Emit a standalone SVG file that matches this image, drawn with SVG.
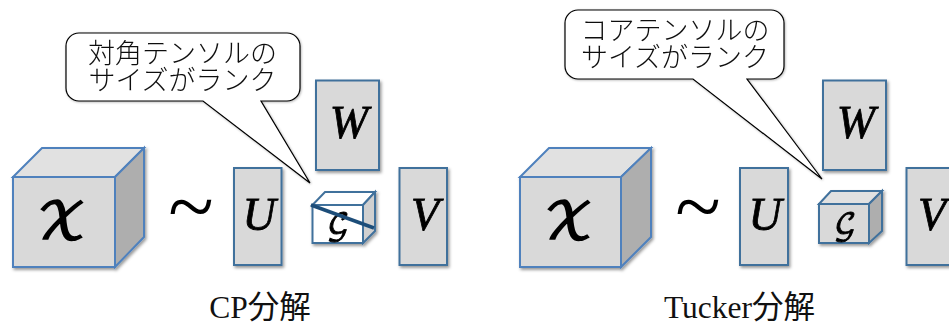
<svg xmlns="http://www.w3.org/2000/svg" width="949" height="323" viewBox="0 0 949 323">
<style>
.shape{stroke:#4f81bd;stroke-width:2;stroke-linejoin:miter}
.box{fill:#d9d9d9;stroke:#41719c;stroke-width:2}
.front{fill:#d9d9d9}.top{fill:#e1e1e1}.side{fill:#aeaeae}
.math{font-family:"DejaVu Math TeX Gyre","Liberation Serif",serif;fill:#000;stroke:#000;text-anchor:middle}
.ital{font-family:"Liberation Serif",serif;font-style:italic;fill:#000;stroke:#000;stroke-width:.8;text-anchor:middle;font-size:46px}
.call{fill:#fff;stroke:#000;stroke-width:1.2;stroke-linejoin:miter}
.ctext{font-family:"Noto Sans CJK JP","Noto Sans",sans-serif;font-size:27px;font-weight:300;fill:#111;text-anchor:middle}
.cap{font-family:"Liberation Serif","Noto Sans CJK JP",serif;font-size:31.5px;fill:#111;text-anchor:middle}
.tilde{font-family:"Liberation Serif",serif;font-size:84px;fill:#000;text-anchor:middle}
</style>
<defs>
<filter id="sh" x="-15%" y="-15%" width="130%" height="130%"><feDropShadow dx="1.5" dy="2" stdDeviation="1.8" flood-color="#000" flood-opacity="0.4"/></filter>
<filter id="ls" x="-10%" y="-10%" width="120%" height="120%"><feDropShadow dx="0.8" dy="0.8" stdDeviation="0.8" flood-color="#000" flood-opacity="0.3"/></filter>
</defs>
<g id="connectors"></g>
<g id="cp-x" filter="url(#sh)">
<path class="shape top" d="M13 177L42 148H144L115 177Z"/><path class="shape side" d="M115 177L144 148V237L115 267Z"/><rect class="shape front" x="13" y="177" width="102" height="90"/>
<text class="math" x="62" y="239" font-size="51" stroke-width="1.7">𝒳</text></g>
<g id="cp-tilde"><text class="tilde" x="191" y="235">~</text></g>
<g id="cp-u" filter="url(#sh)"><rect class="box" x="234" y="168" width="47.5" height="97"/><text class="ital" x="259" y="230">U</text></g>
<g id="cp-w" filter="url(#sh)"><rect class="box" x="316" y="80.5" width="63" height="89.5"/><text class="ital" x="349" y="138">W</text></g>
<g id="cp-v" filter="url(#sh)"><rect class="box" x="399.5" y="168" width="47.5" height="97"/><text class="ital" x="425" y="230">V</text></g>
<g id="cp-g" filter="url(#sh)">
<path d="M312.5 205L325 192H375L363 205Z" fill="#fff" stroke="#41719c" stroke-width="2"/><path d="M363 205L375 192V231L363 243Z" fill="#d0d0d0" stroke="#41719c" stroke-width="2"/><rect x="312.5" y="205" width="50.5" height="38" fill="#fff" stroke="#41719c" stroke-width="2"/>
<text class="math" x="338" y="234" font-size="30" stroke-width=".9">𝒢</text>
<line x1="311" y1="205" x2="374" y2="228" stroke="#1f4e79" stroke-width="3.5"/></g>
<g id="cp-callout" filter="url(#ls)"><path class="call" d="M79 33H287A13 13 0 0 1 300 46V88A13 13 0 0 1 287 101H261L310 183L203 101H79A13 13 0 0 1 66 88V46A13 13 0 0 1 79 33Z"/>
<text class="ctext"><tspan x="182.500" y="63">対角テンソルの</tspan><tspan x="182.500" y="90">サイズがランク</tspan></text></g>
<g id="cp-label"><text class="cap" x="260" y="317.500">CP分解</text></g>
<g id="tucker-x" filter="url(#sh)">
<path class="shape top" d="M520 177L549 148H651L621 177Z"/><path class="shape side" d="M621 177L651 148V237L621 267Z"/><rect class="shape front" x="520" y="177" width="101" height="90"/>
<text class="math" x="569" y="239" font-size="51" stroke-width="1.7">𝒳</text></g>
<g id="tucker-tilde"><text class="tilde" x="698" y="235">~</text></g>
<g id="tucker-u" filter="url(#sh)"><rect class="box" x="740" y="168" width="48" height="97"/><text class="ital" x="765" y="230">U</text></g>
<g id="tucker-w" filter="url(#sh)"><rect class="box" x="823" y="80.5" width="63" height="89.5"/><text class="ital" x="856" y="138">W</text></g>
<g id="tucker-v" filter="url(#sh)"><rect class="box" x="906.5" y="168" width="47.5" height="97"/><text class="ital" x="932" y="230">V</text></g>
<g id="tucker-g" filter="url(#sh)">
<path class="top" d="M819 204L831 191H882L869 204Z" stroke="#41719c" stroke-width="2"/><path class="side" d="M869 204L882 191V231L869 243Z" stroke="#41719c" stroke-width="2"/><rect class="front" x="819" y="204" width="50" height="39" stroke="#41719c" stroke-width="2"/>
<text class="math" x="845" y="234" font-size="30" stroke-width=".9">𝒢</text></g>
<g id="tucker-callout" filter="url(#ls)"><path class="call" d="M578 10H771A13 13 0 0 1 784 23V66A13 13 0 0 1 771 79H747L822 179L693 79H578A13 13 0 0 1 565 66V23A13 13 0 0 1 578 10Z"/>
<text class="ctext"><tspan x="675" y="40">コアテンソルの</tspan><tspan x="675" y="67">サイズがランク</tspan></text></g>
<g id="tucker-label"><text class="cap" x="739.500" y="317.500">Tucker分解</text></g>
</svg>
